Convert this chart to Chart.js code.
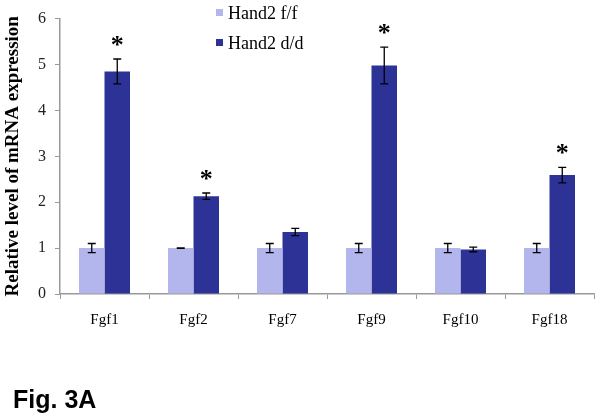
<!DOCTYPE html>
<html>
<head>
<meta charset="utf-8">
<script src="https://cdn.jsdelivr.net/npm/chart.js@4/dist/chart.umd.min.js"></script>
<style>
  html, body { margin: 0; padding: 0; background: #fff; }
  #wrap { position: relative; width: 601px; height: 420px; }
</style>
</head>
<body>
<div id="wrap"><canvas id="c" width="601" height="420"></canvas></div>
<script>
const categories = ['Fgf1', 'Fgf2', 'Fgf7', 'Fgf9', 'Fgf10', 'Fgf18'];
const floxLabel = 'Hand2 f/f';
const deltaLabel = 'Hand2 d/d';
const floxValues = [1, 1, 1, 1, 1, 1];
const floxErrors = [0.10, 0.005, 0.10, 0.10, 0.10, 0.10];
const deltaValues = [4.85, 2.13, 1.35, 4.98, 0.97, 2.59];
const deltaErrors = [0.27, 0.07, 0.08, 0.40, 0.05, 0.17];
const significant = [true, true, false, true, false, true];
const yTicks = [0, 1, 2, 3, 4, 5, 6];
const yTitle = 'Relative level of mRNA expression';
const figLabel = 'Fig. 3A';

const lightColor = '#b3b6ec';
const darkColor = '#2d3396';
const errorSets = [floxErrors, deltaErrors];

const overlayPlugin = {
  id: 'overlay',
  afterDatasetsDraw(chart) {
    const ctx = chart.ctx;
    const yScale = chart.scales.y;
    ctx.save();
    ctx.strokeStyle = '#000';
    ctx.lineWidth = 1.3;
    chart.data.datasets.forEach((ds, di) => {
      const meta = chart.getDatasetMeta(di);
      meta.data.forEach((bar, i) => {
        const v = ds.data[i];
        const e = errorSets[di][i];
        const x = bar.x;
        const yt = yScale.getPixelForValue(v + e);
        const yb = yScale.getPixelForValue(v - e);
        const cw = 4;
        ctx.beginPath();
        ctx.moveTo(x, yt); ctx.lineTo(x, yb);
        ctx.moveTo(x - cw, yt); ctx.lineTo(x + cw, yt);
        ctx.moveTo(x - cw, yb); ctx.lineTo(x + cw, yb);
        ctx.stroke();
        if (di === 1 && significant[i]) {
          ctx.fillStyle = '#000';
          ctx.font = 'bold 26px "Liberation Serif"';
          ctx.textAlign = 'center';
          ctx.textBaseline = 'alphabetic';
          ctx.fillText('*', x, yt - 6);
        }
      });
    });
    ctx.restore();
  },
  afterDraw(chart) {
    const ctx = chart.ctx;
    ctx.save();
    chart.data.datasets.forEach((ds, di) => {
      const cy = 13 + di * 30;
      ctx.fillStyle = ds.backgroundColor;
      ctx.fillRect(216, cy - 4, 7, 7);
      ctx.fillStyle = '#000';
      ctx.font = '18px "Liberation Serif"';
      ctx.textAlign = 'left';
      ctx.textBaseline = 'middle';
      ctx.fillText(ds.label, 228, cy + 1);
    });
    ctx.fillStyle = '#000';
    ctx.font = 'bold 25px "Liberation Sans"';
    ctx.textAlign = 'left';
    ctx.textBaseline = 'alphabetic';
    ctx.fillText(figLabel, 13, 408);
    ctx.restore();
  }
};

new Chart(document.getElementById('c'), {
  type: 'bar',
  data: {
    labels: categories,
    datasets: [
      { label: floxLabel, data: floxValues, backgroundColor: lightColor },
      { label: deltaLabel, data: deltaValues, backgroundColor: darkColor }
    ]
  },
  options: {
    responsive: false,
    animation: false,
    devicePixelRatio: 1,
    layout: { padding: { top: 13, right: 7, left: 0, bottom: 0 } },
    datasets: { bar: { categoryPercentage: 0.573, barPercentage: 1.0 } },
    plugins: { legend: { display: false }, tooltip: { enabled: false } },
    scales: {
      x: {
        grid: { display: true, drawOnChartArea: false, drawTicks: true, tickLength: 5, color: '#999', offset: true },
        border: { color: '#999', width: 1.5 },
        ticks: { color: '#000', padding: 12, font: { family: '"Liberation Serif"', size: 15 } },
        afterFit(scale) { scale.height = 126; }
      },
      y: {
        min: 0, max: 6,
        afterBuildTicks(scale) { scale.ticks = yTicks.map(v => ({ value: v })); },
        grid: { display: true, drawOnChartArea: false, drawTicks: true, tickLength: 5, color: '#999' },
        border: { color: '#999', width: 1.5 },
        ticks: { color: '#222', padding: 9, font: { family: '"Liberation Serif"', size: 16 } },
        title: {
          display: true, text: yTitle, color: '#000',
          font: { family: '"Liberation Serif"', size: 19, weight: 'bold' },
          padding: { top: 2, bottom: 0 }
        },
        afterFit(scale) { scale.width = 60; }
      }
    }
  },
  plugins: [overlayPlugin]
});
</script>
</body>
</html>
